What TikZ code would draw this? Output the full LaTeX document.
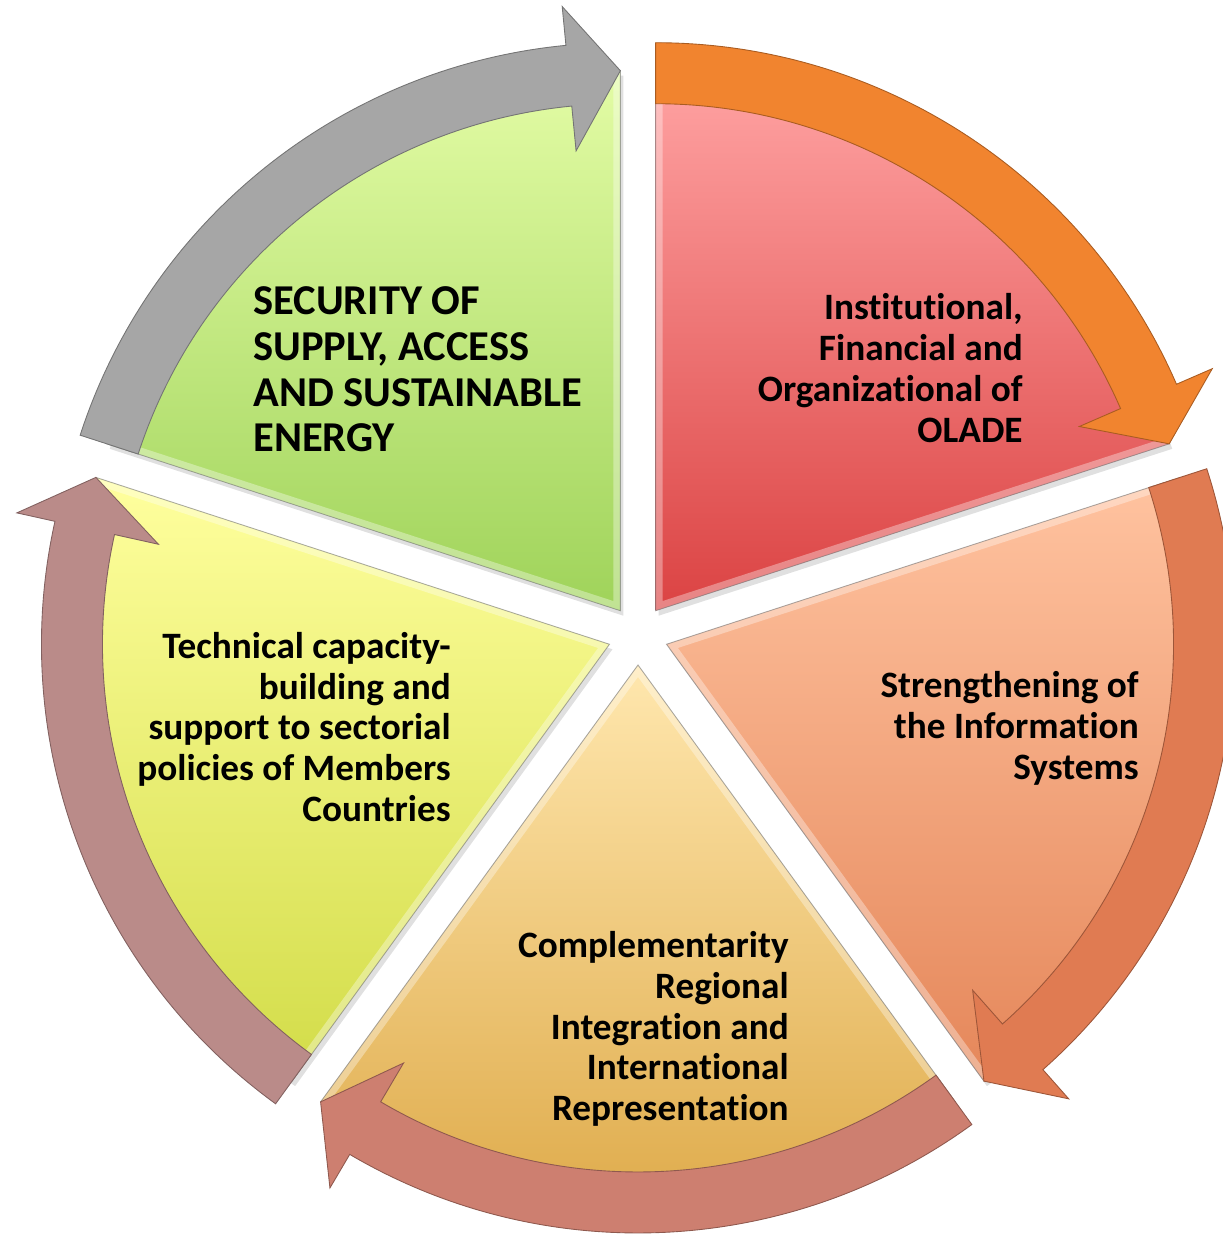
\documentclass[tikz,border=0pt]{standalone}
\usepackage{fontspec}
\setmainfont{Carlito}[Ligatures=NoCommon]
\definecolor{gTop}{HTML}{E3FCA5}\definecolor{gBot}{HTML}{9FD35A}
\definecolor{rTop}{HTML}{FFA3A3}\definecolor{rBot}{HTML}{DB4343}
\definecolor{oTop}{HTML}{FFC3A0}\definecolor{oBot}{HTML}{E5875A}
\definecolor{bTop}{HTML}{FFE7AE}\definecolor{bBot}{HTML}{DDA846}
\definecolor{yTop}{HTML}{FFFF9E}\definecolor{yBot}{HTML}{D2DC48}
\definecolor{aGrey}{HTML}{A6A6A6}
\definecolor{aOrange}{HTML}{F1842F}
\definecolor{aSalmon}{HTML}{E07B52}
\definecolor{aBrown}{HTML}{CD7F70}
\definecolor{aRose}{HTML}{BA8B89}
\tikzset{
  txt/.style={font=\bfseries\fontsize{21.2}{23.2}\selectfont, align=right, inner sep=0pt, text=black},
  bigtxt/.style={font=\bfseries\fontsize{24.2}{26}\selectfont, align=left, inner sep=0pt, text=black},
  sectoredge/.style={draw=black!55, draw opacity=0.6, line width=0.5pt},
  bevel/.style={draw=white, draw opacity=0.35, line width=8pt},
  shadowfill/.style={fill=black, fill opacity=0.12},
}
% #1 mid angle, #2 top colour, #3 bottom colour
\newcommand\mysector[3]{%
  \begin{scope}[shift={(#1:30)}]
    \fill[shadowfill, shift={(3,-5)}] (0,0) -- (#1-36:540) arc[start angle=#1-36, end angle=#1+36, radius=540] -- cycle;
    \shade[top color=#2, bottom color=#3] (0,0) -- (#1-36:540) arc[start angle=#1-36, end angle=#1+36, radius=540] -- cycle;
    \begin{scope}
      \clip (0,0) -- (#1-36:540) arc[start angle=#1-36, end angle=#1+36, radius=540] -- cycle;
      \draw[bevel] (0,0) -- (#1-36:540) arc[start angle=#1-36, end angle=#1+36, radius=540] -- cycle;
    \end{scope}
    \draw[sectoredge] (0,0) -- (#1-36:540) arc[start angle=#1-36, end angle=#1+36, radius=540] -- cycle;
  \end{scope}}
% #1 mid angle, #2 colour
\newcommand\myarrow[2]{%
  \begin{scope}[shift={(#1:30)}]
    \filldraw[fill=#2, draw=#2!70!black, line width=0.5pt, line join=miter]
      (#1+36:507) -- (#1+36:568)
      arc[start angle=#1+36, end angle=#1-30.5, radius=568]
      -- (#1-30.5:607) -- (#1-36:540) -- (#1-30.5:462) -- (#1-30.5:507)
      arc[start angle=#1-30.5, end angle=#1+36, radius=507] -- cycle;
  \end{scope}}
\begin{document}
\begin{tikzpicture}[x=0.02cm, y=0.02cm]
  \useasboundingbox (0,0) rectangle (1223,1234);
  \begin{scope}[shift={(638,599)}]
    \mysector{126}{gTop}{gBot}
    \mysector{54}{rTop}{rBot}
    \mysector{-18}{oTop}{oBot}
    \mysector{-90}{bTop}{bBot}
    \mysector{198}{yTop}{yBot}
    \myarrow{126}{aGrey}
    \myarrow{54}{aOrange}
    \myarrow{-18}{aSalmon}
    \myarrow{-90}{aBrown}
    \myarrow{198}{aRose}
  \end{scope}
  \node[bigtxt, anchor=west] (tgreen) at (253,864.5) {SECURITY OF\\SUPPLY, ACCESS\\AND SUSTAINABLE\\ENERGY};
  \node[txt, anchor=east] (tred) at (1023,866) {Institutional,\\Financial and\\Organizational of\\OLADE};
  \node[txt, anchor=east] (torange) at (1139,505.5) {Strengthening of\\the Information\\Systems};
  \node[txt, anchor=east] (tbottom) at (789,205) {Complementarity\\Regional\\Integration and\\International\\Representation};
  \node[txt, anchor=east] (tyellow) at (451,507) {Technical capacity-\\building and\\support to sectorial\\policies of Members\\Countries};
\end{tikzpicture}
\end{document}
